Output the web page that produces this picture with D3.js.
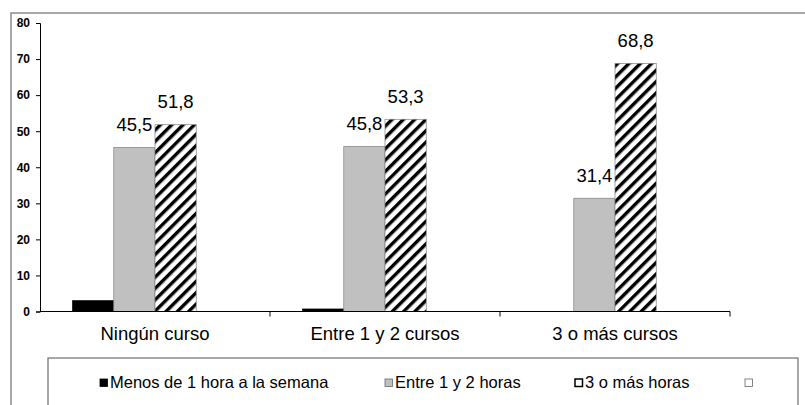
<!DOCTYPE html>
<html>
<head>
<meta charset="utf-8">
<script src="https://cdn.jsdelivr.net/npm/d3@7"></script>
<style>
  body { margin: 0; background: #fff; }
  svg { font-family: "Liberation Sans", Arial, sans-serif; }
</style>
</head>
<body>
<div id="chart"></div>
<script>
let categories = ["Ningún curso", "Entre 1 y 2 cursos", "3 o más cursos"];
let seriesNames = ["Menos de 1 hora a la semana", "Entre 1 y 2 horas", "3 o más horas", ""];
let menosUna = [3.0, 0.7, 0];
let entreUnaDos = [45.5, 45.8, 31.4];
let tresMas = [51.8, 53.3, 68.8];
let vacia = [0, 0, 0];
let yTicks = [0, 10, 20, 30, 40, 50, 60, 70, 80];

let seriesValues = [menosUna, entreUnaDos, tresMas, vacia];
let showLabels = [false, true, true, false];

const width = 805, height = 405;
const margin = {left: 40, right: 75, top: 23, bottom: 93};

let svg = d3.select("#chart")
    .append("svg")
    .attr("width", width)
    .attr("height", height);

// hatch pattern for "3 o más horas"
let defs = svg.append("defs");
let pat = defs.append("pattern")
    .attr("id", "hatch")
    .attr("patternUnits", "userSpaceOnUse")
    .attr("width", 8)
    .attr("height", 8)
    .attr("patternTransform", "rotate(45)");
pat.append("rect").attr("width", 8).attr("height", 8).attr("fill", "#fff");
pat.append("rect").attr("x", 0).attr("width", 3.4).attr("height", 8).attr("fill", "#000");

let fills = ["#000000", "#c0c0c0", "url(#hatch)", "#ffffff"];
let strokes = ["#000000", "#808080", "#808080", "none"];

// outer frame
svg.append("rect")
    .attr("x", 11).attr("y", 13)
    .attr("width", 820).attr("height", 420)
    .attr("fill", "none")
    .attr("stroke", "#8c8c8c")
    .attr("stroke-width", 1.5);

let x0 = d3.scaleBand()
    .domain(categories)
    .range([margin.left, width - margin.right])
    .padding(0);

let x1 = d3.scaleBand()
    .domain(d3.range(seriesNames.length))
    .range([0, x0.bandwidth()])
    .paddingInner(0)
    .paddingOuter(0.79);

let y = d3.scaleLinear()
    .domain([0, 80])
    .range([height - margin.bottom + 0.5 - 1, margin.top]);

// bars
seriesValues.forEach(function(vals, s) {
    svg.append("g").selectAll("rect")
        .data(vals)
        .enter()
        .append("rect")
        .attr("x", (d, i) => x0(categories[i]) + x1(s))
        .attr("y", d => y(d))
        .attr("width", x1.bandwidth())
        .attr("height", d => y(0) - y(d))
        .attr("fill", fills[s])
        .attr("stroke", d => d > 0 ? strokes[s] : "none")
        .attr("stroke-width", 0.7);

    if (showLabels[s]) {
        svg.append("g").selectAll("text")
            .data(vals)
            .enter()
            .append("text")
            .attr("x", (d, i) => x0(categories[i]) + x1(s) + x1.bandwidth() / 2)
            .attr("y", d => y(d) - 16.5)
            .attr("text-anchor", "middle")
            .style("font-size", "18.5px")
            .text(d => d.toFixed(1).replace(".", ","));
    }
});

// y axis
let yAxis = svg.append("g")
    .attr("transform", `translate(${margin.left}, 0)`)
    .call(d3.axisLeft(y).tickValues(yTicks).tickSize(4).tickPadding(6));
yAxis.select(".domain").attr("stroke", "#000");
yAxis.selectAll("text")
    .style("font-size", "12px")
    .style("font-weight", "bold")
    .attr("fill", "#000")
    .attr("font-family", "Liberation Sans, Arial, sans-serif");

// x axis
let xAxis = svg.append("g")
    .attr("transform", `translate(0, ${y(0)})`);
xAxis.append("line")
    .attr("x1", margin.left).attr("x2", width - margin.right)
    .attr("stroke", "#000");
let bounds = categories.map(c => x0(c)).concat([x0.range()[1]]);
xAxis.selectAll(".bt")
    .data(bounds.slice(1))
    .enter()
    .append("line")
    .attr("x1", d => d).attr("x2", d => d)
    .attr("y1", 0).attr("y2", 5)
    .attr("stroke", "#000");
xAxis.selectAll(".cl")
    .data(categories)
    .enter()
    .append("text")
    .attr("x", d => x0(d) + x0.bandwidth() / 2)
    .attr("y", 28.5)
    .attr("text-anchor", "middle")
    .style("font-size", "18.5px")
    .text(d => d);

// legend
let legendX = [100, 385, 575, 745];
svg.append("rect")
    .attr("x", 48).attr("y", 358)
    .attr("width", 750).attr("height", 80)
    .attr("fill", "none")
    .attr("stroke", "#6e6e6e")
    .attr("stroke-width", 1.2);

let leg = svg.append("g").selectAll("g")
    .data(seriesNames)
    .enter()
    .append("g")
    .attr("transform", (d, i) => `translate(${legendX[i]}, 382)`);
leg.append("rect")
    .attr("x", 0).attr("y", -3)
    .attr("width", 7.5).attr("height", 7.5)
    .attr("fill", (d, i) => i == 1 ? fills[1] : (i == 0 ? "#000" : "#fff"))
    .attr("stroke", (d, i) => i == 0 ? "#000" : (i == 2 ? "#000" : "#666"))
    .attr("stroke-width", (d, i) => i == 2 ? 1.5 : 0.8);
leg.append("text")
    .attr("x", 10)
    .attr("y", 5.5)
    .style("font-size", "16.5px")
    .text(d => d);
</script>
</body>
</html>
